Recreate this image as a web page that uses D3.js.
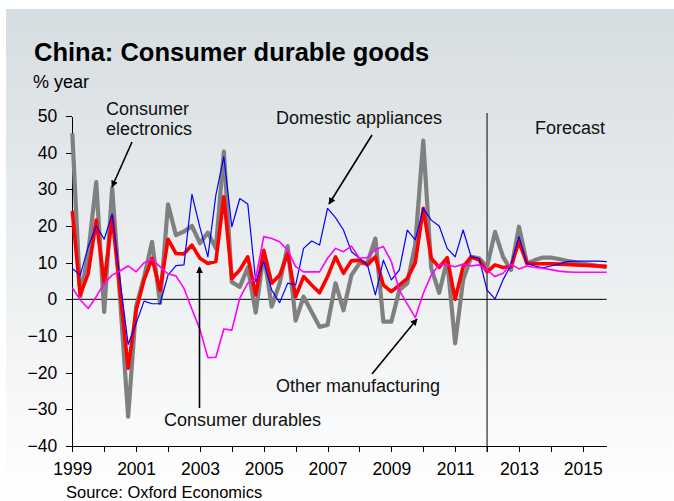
<!DOCTYPE html>
<html>
<head>
<meta charset="utf-8">
<script src="https://cdn.jsdelivr.net/npm/d3@7"></script>
<style>
  body { margin: 0; background: #fff; }
  svg { display: block; font-family: "Liberation Sans", Arial, sans-serif; }
  .axis path, .axis line { stroke: #000; stroke-width: 1; shape-rendering: crispEdges; }
  .axis text { font-size: 17.5px; fill: #000; }
  .series { fill: none; stroke-linejoin: round; }
  .note { font-size: 18px; fill: #111; }
</style>
</head>
<body>
<svg id="chart" width="674" height="501"></svg>
<script>
// quarterly, 1999Q1 .. 2015Q4
const startYear = 1999;
const forecastStart = 2012;

const electronics = [45.3, 0.7, 12.5, 32, -3.4, 30.3, 0, -32, -2, 6, 15.7, -1, 25.9, 17.5, 18.5, 20,
  15.3, 18.2, 13.9, 40.3, 4.7, 3.4, 8.7, -3.6, 12.5, -2, 4.4, 14.5, -5.8, 0.7, -3.4, -7.5,
  -7, 4.4, -3, 6.6, 9.8, 10, 16.6, -6.1, -6.1, 2.5, 4.4, 15, 43.3, 8.5, 1.8, 10.7,
  -12, 5.3, 11.6, 11.2, 8.9, 18.4, 11.6, 8, 19.8, 9.8, 10.7, 11.4, 11.4, 11, 10.5, 10.1,
  9.7, 9.4, 9.1, 8.8];
const appliances = [8.4, 6.6, 14.4, 20, 16.4, 23.3, 5, -12.3, -6.5, -0.5, -1.2, -1.2, 6.6, 9.2, 9.4, 28.6,
  19.6, 11.6, 28.4, 38.9, 19.8, 27.5, 26, 4.8, 10.3, 2.5, -0.9, 4.4, 3.9, 13.9, 15.9, 14.8,
  24.8, 22.3, 18.9, 13, 11.2, 9.4, 1.2, 10.7, 5.3, 8, 18.9, 16.2, 24.8, 21.6, 20, 13.9,
  11.6, 18.9, 11.6, 11.2, 2.5, 0.1, 5.3, 9.4, 17.1, 9.8, 9.1, 8.6, 9.1, 9.6, 10.3, 10.4,
  10.4, 10.4, 10.4, 10.3];
const durables = [24.1, 1.2, 7.1, 21.6, 4.5, 22.5, 2, -18.8, -3, 5.3, 11.2, 2.5, 16.4, 12.5, 12.4, 14.8,
  11.2, 9.8, 10.3, 28, 5.7, 8, 11.6, 1.2, 13.4, 4.4, 6.6, 12.5, 0.7, 6.2, 3.9, 1.8,
  6.2, 11.6, 7.1, 10.5, 10.7, 9.4, 11.6, 3.9, 2.1, 3.9, 5.7, 10, 24.8, 11.2, 8.7, 11.4,
  0, 8.9, 11.6, 10.7, 7.5, 9.4, 8.7, 8.9, 15.7, 9.8, 9.7, 9.7, 9.7, 9.6, 9.5, 9.4,
  9.3, 9.2, 9.1, 9];
const otherManuf = [3.2, -0.2, -2.5, 0.7, 4.4, 6.6, 7.8, 9.1, 7.5, 10, 10.9, 8.9, 6.9, 6.4, 3, -2.7,
  -8.2, -15.9, -15.8, -8.1, -8.4, 0.3, 4.4, 5.7, 17.1, 16.6, 15.7, 13.4, 8.9, 7.5, 7.5, 7.5,
  11.2, 13.9, 13, 14.5, 11.2, 11.4, 13.6, 14.4, 10.3, 2.5, -1.3, -5, 1.6, 6.6, 9.5, 9.4,
  8.9, 9.6, 9.1, 9.4, 8, 6.2, 7.1, 9.6, 8.3, 9.1, 8.7, 8.5, 8.1, 7.7, 7.5, 7.4,
  7.4, 7.4, 7.4, 7.4];

const yearTicks = d3.range(1999, 2016);
const yTicks = [-40, -30, -20, -10, 0, 10, 20, 30, 40, 50];

const svg = d3.select('#chart');
const W = 674, H = 501;

// background
const defs = svg.append('defs');
const grad = defs.append('linearGradient')
  .attr('id', 'bg').attr('x1', 0).attr('y1', 0).attr('x2', 0).attr('y2', 1);
grad.append('stop').attr('offset', '0%').attr('stop-color', '#d6dde0');
grad.append('stop').attr('offset', '100%').attr('stop-color', '#ffffff');
defs.append('marker')
  .attr('id', 'arrow')
  .attr('viewBox', '0 0 10 10')
  .attr('refX', 9).attr('refY', 5)
  .attr('markerWidth', 7).attr('markerHeight', 7)
  .attr('markerUnits', 'userSpaceOnUse')
  .attr('orient', 'auto')
  .append('path')
  .attr('d', 'M0,0 L10,5 L0,10 z')
  .attr('fill', '#000');

svg.append('rect')
  .attr('x', 6).attr('y', 9)
  .attr('width', W - 6).attr('height', H - 9)
  .attr('fill', 'url(#bg)');

const x = d3.scaleLinear().domain([1999, 2015.75]).range([72.3, 606.7]);
const y = d3.scaleLinear().domain([-40, 50]).range([446, 116]);

// zero line and forecast divider
svg.append('line')
  .attr('x1', x(1999)).attr('x2', x(2015.75))
  .attr('y1', y(0)).attr('y2', y(0))
  .attr('stroke', '#000').attr('stroke-width', 1);
svg.append('line')
  .attr('x1', x(forecastStart)).attr('x2', x(forecastStart))
  .attr('y1', 113).attr('y2', y(-40) + 6)
  .attr('stroke', '#000').attr('stroke-width', 1);

// axes
svg.append('g')
  .attr('class', 'axis')
  .attr('transform', `translate(0,${y(-40)})`)
  .call(d3.axisBottom(x)
    .tickValues(yearTicks)
    .tickFormat(d => (d % 2 === 1 ? String(d) : ''))
    .tickSize(6).tickSizeOuter(0).tickPadding(11))
  .selectAll('text').attr('dy', '0.71em');

svg.append('g')
  .attr('class', 'axis')
  .attr('transform', `translate(${x(1999)},0)`)
  .call(d3.axisLeft(y).tickValues(yTicks).tickSize(6).tickSizeOuter(0).tickPadding(9));

// series
const line = d3.line()
  .x((d, i) => x(startYear + i / 4))
  .y(d => y(d));

const series = [
  { values: electronics, color: '#808080', width: 4.2 },
  { values: durables, color: '#ff0000', width: 3.6 },
  { values: appliances, color: '#0000ff', width: 1.2 },
  { values: otherManuf, color: '#ff00ff', width: 1.6 },
];

svg.append('g').selectAll('path')
  .data(series)
  .join('path')
  .attr('class', 'series')
  .attr('d', d => line(d.values))
  .attr('stroke', d => d.color)
  .attr('stroke-width', d => d.width);

// titles
svg.append('text')
  .attr('x', 34).attr('y', 61)
  .style('font-size', '25.5px').style('font-weight', 'bold')
  .text('China: Consumer durable goods');
svg.append('text')
  .attr('x', 33).attr('y', 88)
  .style('font-size', '18px')
  .text('% year');
svg.append('text')
  .attr('x', 66).attr('y', 498)
  .style('font-size', '16.5px')
  .text('Source: Oxford Economics');

// annotations
const notes = [
  { lines: ['Consumer', 'electronics'], x: 106, y: 115 },
  { lines: ['Domestic appliances'], x: 276, y: 124 },
  { lines: ['Forecast'], x: 535, y: 134 },
  { lines: ['Consumer durables'], x: 164, y: 426 },
  { lines: ['Other manufacturing'], x: 276, y: 392 },
];
notes.forEach(n => {
  const t = svg.append('text').attr('class', 'note').attr('x', n.x).attr('y', n.y);
  n.lines.forEach((l, i) => {
    t.append('tspan').attr('x', n.x).attr('dy', i === 0 ? 0 : 20).text(l);
  });
});

const arrows = [
  [132, 142, 112, 187],
  [372, 135, 329, 204],
  [199.5, 408, 199.5, 267],
  [372, 374, 417, 319],
];
svg.append('g').selectAll('line')
  .data(arrows)
  .join('line')
  .attr('x1', d => d[0]).attr('y1', d => d[1])
  .attr('x2', d => d[2]).attr('y2', d => d[3])
  .attr('stroke', '#000').attr('stroke-width', 1.6)
  .attr('marker-end', 'url(#arrow)');
</script>
</body>
</html>
